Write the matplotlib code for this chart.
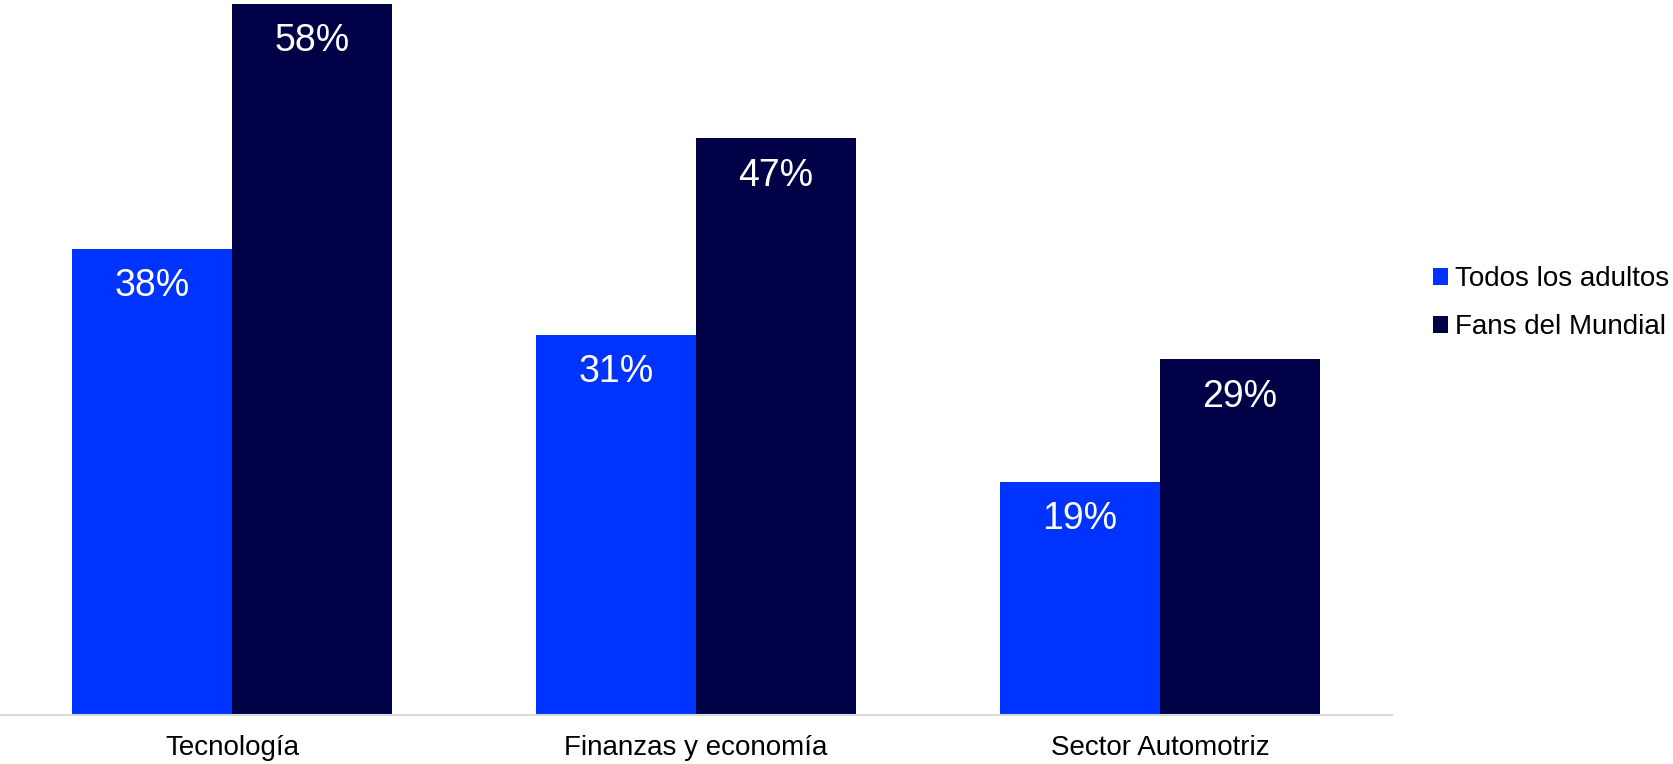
import numpy as np
import matplotlib
matplotlib.use("Agg")
import matplotlib.pyplot as plt
from matplotlib.patches import Patch

plt.rcParams['font.family'] = ['Liberation Sans', 'DejaVu Sans']

categorias = ["Tecnología", "Finanzas y economía", "Sector Automotriz"]
series = ["Todos los adultos", "Fans del Mundial"]
todos_adultos = [38, 31, 19]
fans_mundial = [58, 47, 29]

COLOR_TODOS = "#0033ff"
COLOR_FANS = "#000046"

fig = plt.figure(figsize=(16.73, 7.64), dpi=100)
ax = fig.add_axes([0.0, 0.064, 0.832, 0.933])

x = np.arange(len(categorias))
width = 0.345

bars_a = ax.bar(x - width / 2, todos_adultos, width, color=COLOR_TODOS, linewidth=0)
bars_b = ax.bar(x + width / 2, fans_mundial, width, color=COLOR_FANS, linewidth=0)

# etiquetas de valor en blanco dentro de cada barra
for bars, vals in ((bars_a, todos_adultos), (bars_b, fans_mundial)):
    for rect, v in zip(bars, vals):
        ax.annotate(f"{v}%", (rect.get_x() + rect.get_width() / 2, v),
                    xytext=(0, -27), textcoords="offset points",
                    ha="center", va="center", color="white", fontsize=27)

ax.set_xlim(-0.5, 2.5)
ax.set_ylim(0, 58.1)
ax.set_yticks([])
ax.set_xticks(x)
ax.set_xticklabels(categorias, fontsize=20)
ax.tick_params(axis="x", length=0, pad=14)
for side in ("top", "right", "left"):
    ax.spines[side].set_visible(False)
ax.spines["bottom"].set_color("#d9d9d9")
ax.spines["bottom"].set_linewidth(1.5)

handles = [Patch(facecolor=COLOR_TODOS), Patch(facecolor=COLOR_FANS)]
fig.legend(handles, series, loc="center left", bbox_to_anchor=(0.8565, 0.603),
           frameon=False, fontsize=20, handlelength=0.55, handleheight=0.55,
           handletextpad=0.25, labelspacing=0.8, borderaxespad=0, borderpad=0)

fig.savefig("out.png", dpi=100)
